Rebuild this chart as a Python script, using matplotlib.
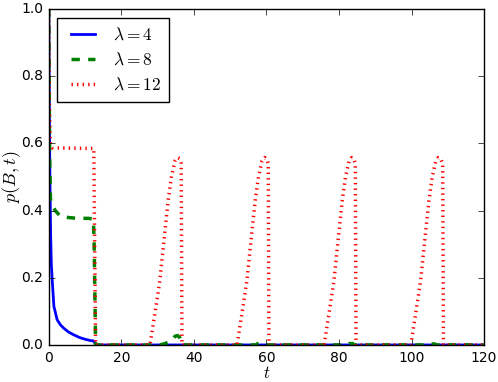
import numpy as np
import matplotlib
matplotlib.use("Agg")
import matplotlib.pyplot as plt

plt.style.use("classic")

# lambda = 4
t_4 = [0, 0.1, 0.2, 0.3, 0.5, 0.7, 0.9, 1.4, 2.3, 3.2, 4.1, 5.5, 6.9, 8.5, 10.0, 11.5, 12.3, 12.7, 13.0, 120]
p_4 = [1.0, 0.8, 0.62, 0.5, 0.33, 0.24, 0.2, 0.115, 0.075, 0.06, 0.05, 0.038, 0.03, 0.022, 0.017, 0.013, 0.012, 0.006, 0.0, 0.0]

# lambda = 8
t_8 = [0, 0.1, 0.25, 0.46, 0.8, 1.2, 1.8, 3.2, 5.0, 7.8, 11.0, 12.3, 12.5, 12.9,
       30.6, 32.0, 33.8, 34.8, 35.5, 36.1, 36.9,
       57.2, 57.6, 58.6, 59.0, 82.4, 82.8, 83.8, 84.2, 105.0, 105.4, 106.4, 106.8, 120]
p_8 = [1.0, 0.75, 0.55, 0.435, 0.42, 0.41, 0.40, 0.383, 0.38, 0.377, 0.377, 0.375, 0.3, 0.0,
       0.0, 0.004, 0.012, 0.026, 0.028, 0.022, 0.0,
       0.0, 0.004, 0.004, 0.0, 0.0, 0.004, 0.004, 0.0, 0.0, 0.003, 0.003, 0.0, 0.0]

# lambda = 12
t_12 = [0, 0.1, 0.2, 0.35, 0.5, 1.0, 12.3, 12.4, 12.9,
        27.9, 29.2, 30.6, 31.5, 32.9, 33.8, 34.8, 35.5, 36.1, 36.5, 36.7,
        51.9, 53.2, 54.6, 55.5, 56.9, 57.8, 58.8, 59.5, 60.1, 60.5, 60.7,
        75.9, 77.2, 78.6, 79.5, 80.9, 81.8, 82.8, 83.5, 84.1, 84.5, 84.7,
        99.8, 101.1, 102.5, 103.4, 104.8, 105.7, 106.7, 107.4, 108.0, 108.6, 108.8, 120]
p_12 = [1.0, 0.82, 0.7, 0.62, 0.595, 0.587, 0.585, 0.585, 0.0,
        0.0, 0.09, 0.19, 0.285, 0.43, 0.50, 0.548, 0.558, 0.555, 0.54, 0.0,
        0.0, 0.09, 0.19, 0.285, 0.43, 0.50, 0.548, 0.558, 0.555, 0.54, 0.0,
        0.0, 0.09, 0.19, 0.285, 0.43, 0.50, 0.548, 0.558, 0.555, 0.54, 0.0,
        0.0, 0.09, 0.19, 0.285, 0.43, 0.50, 0.548, 0.558, 0.555, 0.54, 0.0, 0.0]

fig = plt.figure(figsize=(4.98, 3.82), dpi=100, facecolor="white")
ax = fig.add_axes([0.098, 0.097, 0.874, 0.879])

ax.plot(t_4, p_4, "b-", lw=2, label=r"$\lambda=4$")
ax.plot(t_8, p_8, "g--", lw=2.5, label=r"$\lambda=8$")
ax.plot(t_12, p_12, "r:", lw=2.5, label=r"$\lambda=12$")

ax.set_xlim(0, 120)
ax.set_ylim(0, 1.0)
ax.set_xticks(np.arange(0, 121, 20))
ax.set_yticks(np.arange(0, 1.01, 0.2))
ax.tick_params(labelsize=10)
ax.set_xlabel(r"$t$", fontsize=12)
ax.set_ylabel(r"$p(B,t)$", fontsize=13)
ax.xaxis.set_label_coords(0.5, -0.058)
ax.yaxis.set_label_coords(-0.06, 0.5)
ax.legend(loc="upper left", fontsize=12.5, labelspacing=0.42, handlelength=2.0,
          handletextpad=0.75, borderpad=0.45, borderaxespad=0.5)

fig.savefig("out.png", dpi=100, facecolor="white")
